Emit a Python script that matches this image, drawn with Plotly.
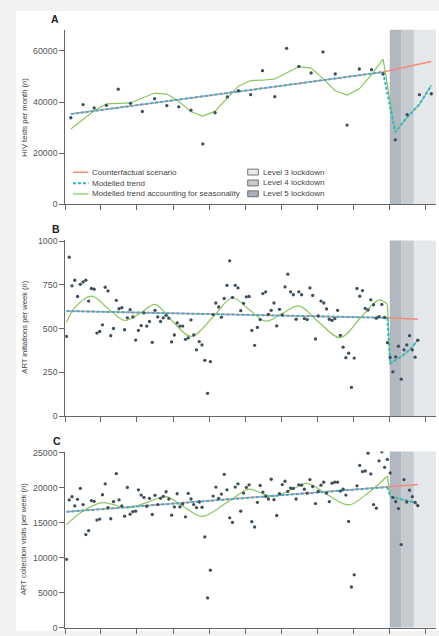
import plotly.graph_objects as go
import pandas as pd

W, H = 439, 636

# ---------------- data ----------------
# Panel A: monthly HIV tests (Jan 2018 - Jul 2020)
month_dates = [f"{2018 + i // 12}-{i % 12 + 1:02d}-15" for i in range(31)]
hiv_tests = [33850, 39000, 37700, 38700, 45000, 39500, 36300, 41300, 38600, 38100,
             36800, 23600, 35800, 42000, 44400, 42860, 52250, 42100, 61000, 53900,
             51350, 59600, 50960, 31000, 52900, 52640, 50960, 25200, 35100, 42860, 43240]
hiv_season = [29470, 33080, 36550, 39250, 39380, 39640, 41570, 43500, 43110, 40280,
              36160, 34490, 36420, 41570, 46200, 48390, 48520, 49030, 51350, 53800,
              53280, 49160, 44400, 42730, 45170, 50710, 56760, 28190, 33980, 39120, 46460]
hiv_trend = [35300, 51700]            # at month 0 and month 26
hiv_cf_end = 55800                    # at month 30
hiv_post = [51700, 28190, 33980, 39120, 46460]   # months 26..30

# Panels B, C: weekly data (from 4 Jan 2018)
week_dates = pd.date_range("2018-01-04", periods=128, freq="7D")
art_init = [456, 909, 745, 777, 684, 754, 767, 777, 658, 730, 726, 475, 484, 522, 737, 716,
            460, 501, 662, 614, 620, 494, 562, 609, 567, 435, 490, 518, 590, 515, 541, 422,
            605, 567, 541, 562, 577, 560, 424, 464, 533, 515, 515, 439, 447, 550, 464, 379,
            426, 407, 319, 130, 311, 581, 647, 624, 566, 673, 748, 888, 679, 748, 733, 603,
            645, 682, 684, 490, 405, 507, 552, 701, 711, 582, 605, 647, 516, 611, 579, 739,
            812, 711, 694, 554, 711, 694, 558, 552, 733, 690, 441, 573, 658, 647, 613, 554,
            547, 558, 605, 462, 394, 334, 360, 164, 332, 730, 686, 718, 616, 607, 665, 637,
            560, 569, 639, 564, 420, 336, 253, 339, 400, 211, 379, 407, 460, 379, 337, 434]
init_trend = [601, 562]               # week 0, week 116
init_cf_end = 554                     # week 127
init_post_weeks = [116, 117, 119, 121, 123, 125, 127]
init_post = [562, 302, 322, 340, 365, 395, 437]
init_season_weeks = [0, 3, 9, 15, 21, 27, 32, 38, 45, 53, 60, 66, 72, 78, 84, 91, 99, 106, 113, 116]
init_season = [535, 620, 686, 616, 547, 593, 639, 548, 456, 567, 677, 610, 543, 587, 630, 540, 449, 557, 665, 640]

art_collect = [9770, 18270, 18740, 17420, 18360, 19920, 17610, 13310, 13880, 18170, 18080, 15390,
               15530, 19020, 20580, 17180, 15580, 18030, 22040, 18270, 17420, 15950, 20060, 16240,
               16610, 16660, 19730, 18970, 18640, 17370, 18500, 16190, 18930, 17610, 18500, 18790,
               19450, 18410, 16100, 17280, 19160, 17280, 17700, 15860, 19210, 18410, 17610, 17180,
               17980, 17230, 12980, 4250, 8210, 18830, 20110, 18500, 19120, 21950, 19730, 15720,
               15060, 20110, 20580, 16660, 19260, 20060, 20440, 15150, 14400, 17940, 20340, 19400,
               18790, 18410, 21240, 18310, 16050, 19160, 20480, 20960, 19490, 19970, 19920, 18410,
               20440, 20390, 19820, 19260, 21190, 20200, 17750, 19490, 20390, 20820, 19260, 18030,
               20670, 20820, 20820, 19540, 19820, 18970, 15200, 5810, 7550, 20300, 23220, 22330,
               22420, 24970, 22000, 17610, 17090, 23880, 25160, 22940, 24070, 22140, 18640, 18030,
               17040, 11890, 21190, 17980, 19680, 18740, 17940, 17460]
coll_trend = [16570, 20110]
coll_cf_end = 20480
coll_post_weeks = [116, 117, 118, 121, 124, 126, 127]
coll_post = [20110, 18800, 18650, 18400, 18150, 17900, 17460]
coll_season_weeks = [0, 6, 13, 17, 22, 29, 36, 42, 49, 58, 66, 70, 75, 81, 87, 94, 102, 110, 116]
coll_season = [14730, 16700, 17890, 17600, 17130, 17900, 18740, 17400, 15910, 17900, 19820, 19300,
               18790, 19700, 20630, 19100, 17560, 19600, 21710]

x_start, x_end = "2018-01-01", "2020-07-27"
x_ticks = [f"{2018 + (3 * i) // 12}-{(3 * i) % 12 + 1:02d}-01" for i in range(11)]
lockdowns = [("Level 5 lockdown", "2020-04-01", "2020-05-01", "#b2b8bf"),
             ("Level 4 lockdown", "2020-05-01", "2020-06-01", "#c6cbd0"),
             ("Level 3 lockdown", "2020-06-01", x_end, "#e5e8eb")]

# ---------------- styles ----------------
C_CF = "#f08c78"
C_TREND = "#33b3da"
C_SEAS = "#8cc65c"
C_PT = "#3e4f5b"
FONT = "Liberation Sans, Arial, sans-serif"

def pxx(x):
    return x / W

def pyy(y):
    return 1 - y / H

fig = go.Figure()

def add_panel(xa, ya, x_pts, y_pts, trend_x, trend_y, cf_x, cf_y, post_x, post_y,
              seas_x, seas_y, seas_shape, drop_x, drop_y):
    fig.add_trace(go.Scatter(x=cf_x, y=cf_y, mode="lines", line=dict(color=C_CF, width=1.5),
                             xaxis=xa, yaxis=ya, showlegend=False, hoverinfo="skip"))
    fig.add_trace(go.Scatter(x=seas_x, y=seas_y, mode="lines",
                             line=dict(color=C_SEAS, width=1.2, shape=seas_shape),
                             xaxis=xa, yaxis=ya, showlegend=False, hoverinfo="skip"))
    if drop_x is not None:
        fig.add_trace(go.Scatter(x=drop_x, y=drop_y, mode="lines",
                                 line=dict(color=C_SEAS, width=1.2),
                                 xaxis=xa, yaxis=ya, showlegend=False, hoverinfo="skip"))
    fig.add_trace(go.Scatter(x=trend_x, y=trend_y, mode="lines",
                             line=dict(color=C_TREND, width=2, dash="3px,2px"),
                             xaxis=xa, yaxis=ya, showlegend=False, hoverinfo="skip"))
    fig.add_trace(go.Scatter(x=post_x, y=post_y, mode="lines",
                             line=dict(color=C_TREND, width=2, dash="3px,2px"),
                             xaxis=xa, yaxis=ya, showlegend=False, hoverinfo="skip"))
    fig.add_trace(go.Scatter(x=x_pts, y=y_pts, mode="markers",
                             marker=dict(color=C_PT, size=3.3),
                             xaxis=xa, yaxis=ya, showlegend=False, hoverinfo="skip"))

# Panel A
add_panel("x", "y", month_dates, hiv_tests,
          [month_dates[0], month_dates[26]], hiv_trend,
          [month_dates[0], month_dates[26], month_dates[30]], hiv_trend + [hiv_cf_end],
          month_dates[26:31], hiv_post,
          month_dates, hiv_season, "linear", None, None)

# Panel B
wk = list(week_dates)
add_panel("x2", "y2", wk, art_init,
          [wk[0], wk[116]], init_trend,
          [wk[0], wk[116], wk[127]], init_trend + [init_cf_end],
          [wk[i] for i in init_post_weeks], init_post,
          [wk[i] for i in init_season_weeks], init_season, "spline",
          [wk[i] for i in init_post_weeks], [init_season[-1]] + init_post[1:])

# Panel C
add_panel("x3", "y3", wk, art_collect,
          [wk[0], wk[116]], coll_trend,
          [wk[0], wk[116], wk[127]], coll_trend + [coll_cf_end],
          [wk[i] for i in coll_post_weeks], coll_post,
          [wk[i] for i in coll_season_weeks], coll_season, "spline",
          [wk[i] for i in coll_post_weeks], [coll_season[-1]] + coll_post[1:])

# ---------------- layout ----------------
xdom = [pxx(65.3), pxx(436)]
panels = [
    dict(y0=203.2, y1=26, rng=[0, 68300], ticks=[0, 20000, 40000, 60000]),
    dict(y0=418, y1=239.8, rng=[0, 1005], ticks=[0, 250, 500, 750, 1000]),
    dict(y0=632.5, y1=454, rng=[0, 25200], ticks=[0, 5000, 10000, 15000, 20000, 25000]),
]
layout = dict(
    width=W, height=H, margin=dict(l=0, r=0, t=0, b=0),
    paper_bgcolor="#f2f2f2", plot_bgcolor="rgba(0,0,0,0)",
    font=dict(family=FONT, size=9, color="#555"),
    showlegend=False,
)
for i, p in enumerate(panels):
    sfx = "" if i == 0 else str(i + 1)
    layout["xaxis" + sfx] = dict(
        domain=xdom, range=[x_start, x_end], type="date", anchor="y" + sfx,
        tickvals=x_ticks, showticklabels=False, ticks="outside", ticklen=5,
        tickcolor="#666", showline=True, linecolor="#666", linewidth=1,
        showgrid=False, zeroline=False, fixedrange=True)
    layout["yaxis" + sfx] = dict(
        domain=[pyy(p["y0"]), pyy(p["y1"])], range=p["rng"], anchor="x" + sfx,
        tickvals=p["ticks"], ticktext=[str(t) for t in p["ticks"]],
        ticks="outside", ticklen=5, tickcolor="#666", showline=True, linecolor="#666",
        linewidth=1, showgrid=False, zeroline=False,
        tickfont=dict(size=8.8, color="#555", family=FONT), fixedrange=True)
fig.update_layout(**layout)

shapes = [dict(type="rect", xref="paper", yref="paper", x0=pxx(16), x1=1.0, y0=0, y1=pyy(7),
               fillcolor="white", line=dict(width=0), layer="below")]
for i in range(3):
    sfx = "" if i == 0 else str(i + 1)
    for name, a, b, col in lockdowns:
        shapes.append(dict(type="rect", xref="x" + sfx, yref="y" + sfx + " domain",
                           x0=a, x1=b, y0=0, y1=1, fillcolor=col, line=dict(width=0),
                           layer="below"))

annotations = []
# Panel letters
for letter, x, y in [("A", 55, 15), ("B", 56, 228.5), ("C", 56.5, 443)]:
    annotations.append(dict(text=f"<b>{letter}</b>", x=pxx(x), y=pyy(y), xref="paper",
                            yref="paper", showarrow=False, xanchor="center", yanchor="middle",
                            font=dict(size=10.5, color="#222", family=FONT)))
# Y axis titles
for txt, y in [("HIV tests per month (<i>n</i>)", 115),
               ("ART initiations per week (<i>n</i>)", 328),
               ("ART collection visits per week (<i>n</i>)", 542.5)]:
    annotations.append(dict(text=txt, x=pxx(24.3), y=pyy(y), xref="paper", yref="paper",
                            showarrow=False, textangle=-90, xanchor="center",
                            yanchor="middle", font=dict(size=7.6, color="#444", family=FONT)))

# Legend (manual)
leg_lines = [("Counterfactual scenario", C_CF, "solid", 1.5),
             ("Modelled trend", C_TREND, "3px,2px", 2),
             ("Modelled trend accounting for seasonality", C_SEAS, "solid", 1.2)]
for j, (txt, col, dash, wd) in enumerate(leg_lines):
    y = 170.7 + 11 * j
    shapes.append(dict(type="line", xref="paper", yref="paper", x0=pxx(73), x1=pxx(88.5),
                       y0=pyy(y), y1=pyy(y), line=dict(color=col, width=wd, dash=dash)))
    annotations.append(dict(text=txt, x=pxx(90.3), y=pyy(y), xref="paper", yref="paper",
                            showarrow=False, xanchor="left", yanchor="middle",
                            font=dict(size=8, color="#444", family=FONT)))
leg_boxes = [("Level 3 lockdown", "#e8eaec"), ("Level 4 lockdown", "#c6cbd0"),
             ("Level 5 lockdown", "#aab0b7")]
for j, (txt, col) in enumerate(leg_boxes):
    y = 170.5 + 11 * j
    shapes.append(dict(type="rect", xref="paper", yref="paper", x0=pxx(247.7), x1=pxx(258.3),
                       y0=pyy(y + 3), y1=pyy(y - 3), fillcolor=col,
                       line=dict(color="#555", width=0.8)))
    annotations.append(dict(text=txt, x=pxx(261), y=pyy(y), xref="paper", yref="paper",
                            showarrow=False, xanchor="left", yanchor="middle",
                            font=dict(size=8, color="#444", family=FONT)))

fig.update_layout(shapes=shapes, annotations=annotations)
fig.write_html("out.html", config={"displayModeBar": False},
               post_script="document.body.style.margin='0px';"
                           "document.body.style.background='#f2f2f2';")
